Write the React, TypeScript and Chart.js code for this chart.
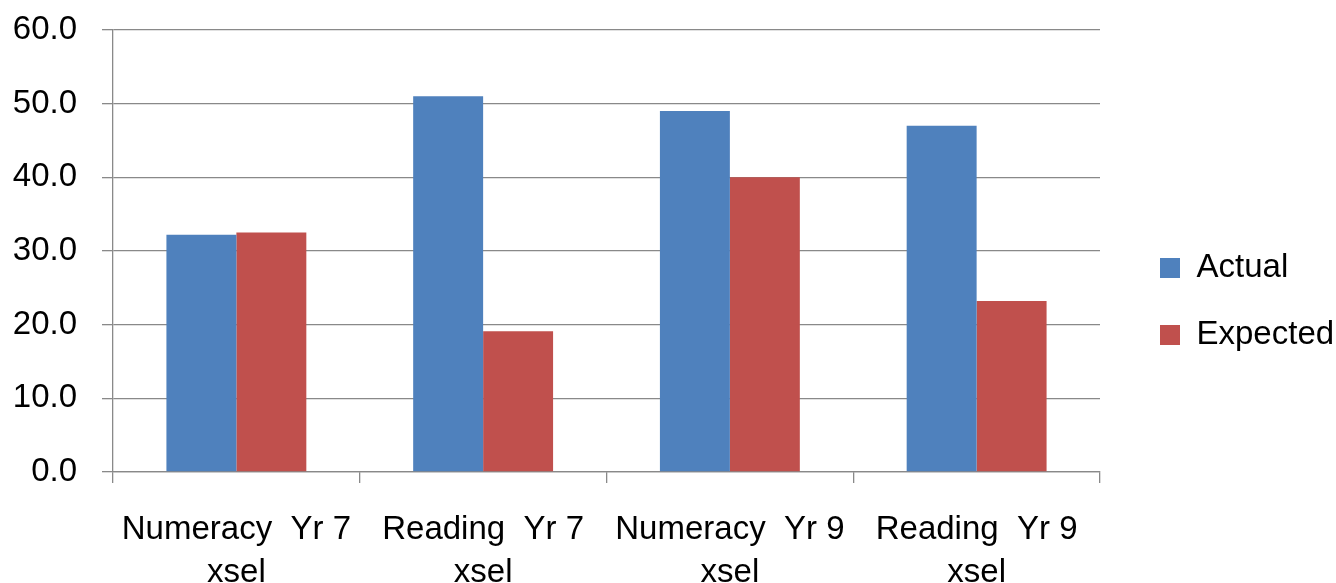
import React, { useEffect, useRef } from "react";
import { Chart, registerables } from "chart.js";

Chart.register(...registerables);

const categories: string[][] = [
  ["Numeracy  Yr 7", "xsel"],
  ["Reading  Yr 7", "xsel"],
  ["Numeracy  Yr 9", "xsel"],
  ["Reading  Yr 9", "xsel"],
];
const actualValues = [32.2, 51.0, 49.0, 47.0];
const expectedValues = [32.5, 19.1, 40.0, 23.2];
const seriesNames = ["Actual", "Expected"];
const yMin = 0;
const yMax = 60;
const yStep = 10;

const W = 1336;
const H = 583;
const FONT = "'Liberation Sans', Arial, sans-serif";
const GRID = "#898989";
const LEGEND_W = 236;
const LEGEND_DX = 26;
const LEGEND_DY = -5;
const TOP_PAD = 30;

const legendPlacer = {
  id: "legendPlacer",
  beforeUpdate(chart: any) {
    const lg = chart.legend;
    if (lg && !lg._patchedFit) {
      const orig = lg.fit;
      lg.fit = function () {
        orig.call(this);
        this.width = LEGEND_W;
      };
      lg._patchedFit = true;
    }
  },
  afterLayout(chart: any) {
    const lg = chart.legend;
    if (!lg) return;
    lg.left += LEGEND_DX;
    lg.right += LEGEND_DX;
    lg.top += LEGEND_DY;
    lg.bottom += LEGEND_DY;
  },
};

export default function App() {
  const ref = useRef<HTMLCanvasElement | null>(null);
  useEffect(() => {
    if (!ref.current) return;
    const chart = new Chart(ref.current, {
      type: "bar",
      data: {
        labels: categories,
        datasets: [
          {
            label: seriesNames[0],
            data: actualValues,
            backgroundColor: "#4F81BD",
            borderWidth: 0,
          },
          {
            label: seriesNames[1],
            data: expectedValues,
            backgroundColor: "#C0504D",
            borderWidth: 0,
          },
        ],
      },
      options: {
        responsive: false,
        animation: false,
        layout: { padding: { top: TOP_PAD, left: 0, right: 0, bottom: 0 } },
        datasets: {
          bar: { categoryPercentage: 0.567, barPercentage: 1 },
        },
        plugins: {
          tooltip: { enabled: false },
          legend: {
            position: "right",
            labels: {
              boxWidth: 20,
              boxHeight: 20,
              padding: 34,
              color: "#000",
              font: { family: FONT, size: 33 },
            },
          },
        },
        scales: {
          x: {
            offset: true,
            grid: {
              display: true,
              offset: true,
              drawOnChartArea: false,
              drawTicks: true,
              tickLength: 11,
              color: GRID,
              lineWidth: 1.3,
            },
            border: { display: true, color: GRID, width: 1.3 },
            ticks: {
              color: "#000",
              padding: 25,
              maxRotation: 0,
              autoSkip: false,
              font: { family: FONT, size: 33, lineHeight: 1.31 },
            },
            afterFit: (s: any) => {
              s.height = 111;
              s.paddingLeft = 0;
              s.paddingRight = 0;
            },
          },
          y: {
            min: yMin,
            max: yMax,
            grid: {
              color: GRID,
              lineWidth: 1.3,
              drawTicks: true,
              tickLength: 11,
            },
            border: { display: true, color: GRID, width: 1.3 },
            ticks: {
              stepSize: yStep,
              color: "#000",
              padding: 25,
              font: { family: FONT, size: 33 },
              callback: (v: any) => Number(v).toFixed(1),
            },
            afterFit: (s: any) => {
              s.width = 113;
              s.paddingTop = 0;
              s.paddingBottom = 0;
            },
          },
        },
      },
      plugins: [legendPlacer],
    });
    return () => chart.destroy();
  }, []);
  return (
    <div style={{ position: "absolute", left: 0, top: 0, width: W, height: H, background: "#fff" }}>
      <canvas ref={ref} width={W} height={H} style={{ display: "block" }} />
    </div>
  );
}
